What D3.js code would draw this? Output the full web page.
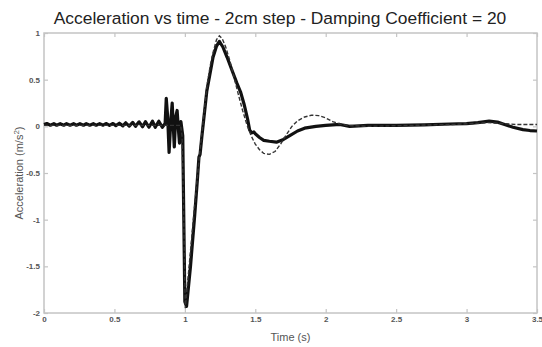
<!DOCTYPE html>
<html>
<head>
<meta charset="utf-8">
<script src="https://cdn.jsdelivr.net/npm/d3@7"></script>
<style>
  body { margin: 0; background: #fff; }
  svg { display: block; font-family: "Liberation Sans", Arial, sans-serif; }
</style>
</head>
<body>
<div id="chart"></div>
<script>
// measured acceleration [time s, accel m/s^2]
var measured = [
  [0,0.02],[0.02,0.03],[0.045,0.012],[0.07,0.028],[0.09,0.012],[0.115,0.028],[0.14,0.012],[0.16,0.028],
  [0.185,0.012],[0.21,0.028],[0.23,0.012],[0.255,0.028],[0.28,0.012],[0.3,0.028],[0.325,0.012],[0.35,0.028],
  [0.37,0.012],[0.395,0.028],[0.42,0.012],[0.44,0.03],[0.465,0.01],[0.49,0.03],[0.51,0.008],[0.535,0.033],
  [0.56,0.005],[0.58,0.038],[0.605,0.002],[0.63,0.042],[0.65,0.0],[0.675,0.048],[0.7,-0.005],[0.72,0.05],
  [0.745,-0.01],[0.77,0.055],[0.79,-0.01],[0.815,0.055],[0.84,-0.01],[0.86,0.03],
  [0.868,0.3],[0.878,0.1],[0.888,-0.28],[0.9,0.05],[0.91,0.25],[0.918,0.0],[0.925,-0.22],[0.935,0.1],
  [0.945,0.17],[0.955,-0.05],[0.962,-0.18],[0.972,0.05],[0.985,-0.1],[1.0,-1.88],[1.012,-1.93],
  [1.04,-1.5],[1.07,-0.95],[1.09,-0.55],[1.1,-0.33],[1.108,-0.3],[1.12,-0.12],[1.156,0.38],[1.2,0.74],
  [1.225,0.86],[1.245,0.91],[1.27,0.85],[1.3,0.74],[1.34,0.58],[1.37,0.46],[1.395,0.37],[1.42,0.24],
  [1.445,0.08],[1.46,-0.04],[1.475,-0.07],[1.49,-0.06],[1.5,-0.08],[1.53,-0.12],[1.56,-0.15],[1.6,-0.16],
  [1.65,-0.17],[1.7,-0.14],[1.745,-0.1],[1.8,-0.05],[1.85,-0.02],[1.93,0.0],[2.0,0.01],[2.1,0.02],
  [2.17,0.0],[2.3,0.01],[2.5,0.01],[2.7,0.015],[2.88,0.025],[3.0,0.03],[3.08,0.04],[3.16,0.055],
  [3.22,0.045],[3.27,0.02],[3.33,-0.01],[3.4,-0.035],[3.45,-0.045],[3.5,-0.05]
];

// simulated acceleration (dashed)
var model = [
  [0,0.01],[0.97,0.01],[0.98,-0.1],[0.99,-0.8],[1.003,-1.95],[1.03,-1.5],[1.06,-1.0],[1.085,-0.6],
  [1.106,-0.28],[1.13,0.06],[1.156,0.42],[1.18,0.65],[1.2,0.79],[1.225,0.93],[1.245,0.97],[1.265,0.94],
  [1.29,0.85],[1.32,0.7],[1.35,0.52],[1.38,0.34],[1.41,0.17],[1.44,0.02],[1.47,-0.1],[1.5,-0.19],
  [1.53,-0.25],[1.56,-0.29],[1.6,-0.3],[1.64,-0.27],[1.68,-0.19],[1.72,-0.09],[1.76,0.0],[1.8,0.06],
  [1.85,0.1],[1.9,0.12],[1.95,0.115],[2.0,0.09],[2.05,0.05],[2.1,0.025],[2.15,0.01],[2.3,0.0],
  [2.6,0.01],[2.9,0.02],[3.05,0.03],[3.15,0.04],[3.25,0.03],[3.35,0.02],[3.5,0.02]
];

var xTicks = [0, 0.5, 1, 1.5, 2, 2.5, 3, 3.5];
var yTicks = [1, 0.5, 0, -0.5, -1, -1.5, -2];

var margin = { top: 33, right: 5, bottom: 34, left: 44 };
var width = 542 - margin.left - margin.right;
var height = 347 - margin.top - margin.bottom;

var svg = d3.select("#chart")
  .append("svg")
    .attr("width", 542)
    .attr("height", 347)
  .append("g")
    .attr("transform", "translate(" + margin.left + "," + margin.top + ")");

var x = d3.scaleLinear().domain([0, 3.5]).range([0, width]);
var y = d3.scaleLinear().domain([-2, 1]).range([height, 0]);

var fmt = function(d) { return String(d); };

function styleAxis(g) {
  g.select(".domain").remove();
  g.selectAll(".tick line").attr("stroke", "#c4c4c4").attr("stroke-width", 1.2);
  g.selectAll(".tick text")
    .attr("fill", "#555")
    .style("font-size", "8px")
    .style("font-weight", "bold");
}

svg.append("g")
  .attr("transform", "translate(0," + height + ")")
  .call(d3.axisBottom(x).tickValues(xTicks).tickFormat(fmt).tickSizeInner(-4).tickSizeOuter(0).tickPadding(3))
  .call(styleAxis);

svg.append("g")
  .call(d3.axisTop(x).tickValues(xTicks).tickFormat("").tickSizeInner(-4).tickSizeOuter(0))
  .call(styleAxis);

svg.append("g")
  .call(d3.axisLeft(y).tickValues(yTicks).tickFormat(fmt).tickSizeInner(-4).tickSizeOuter(0).tickPadding(4))
  .call(styleAxis);

svg.append("g")
  .attr("transform", "translate(" + width + ",0)")
  .call(d3.axisRight(y).tickValues(yTicks).tickFormat("").tickSizeInner(-4).tickSizeOuter(0))
  .call(styleAxis);

svg.append("rect")
  .attr("width", width)
  .attr("height", height)
  .attr("fill", "none")
  .attr("stroke", "#c4c4c4")
  .attr("stroke-width", 1.5);

var line = d3.line()
  .x(function(d) { return x(d[0]); })
  .y(function(d) { return y(d[1]); });

svg.append("path")
  .datum(measured)
  .attr("d", line)
  .attr("fill", "none")
  .attr("stroke", "#111")
  .attr("stroke-width", 3.2)
  .attr("stroke-linejoin", "round");

svg.append("path")
  .datum(model)
  .attr("d", line)
  .attr("fill", "none")
  .attr("stroke", "#333")
  .attr("stroke-width", 1.4)
  .attr("stroke-dasharray", "4,2");

var root = d3.select("svg");

root.append("text")
  .attr("x", 280)
  .attr("y", 24)
  .attr("text-anchor", "middle")
  .attr("fill", "#222")
  .style("font-size", "17.4px")
  .text("Acceleration vs time - 2cm step - Damping Coefficient = 20");

root.append("text")
  .attr("x", margin.left + width / 2)
  .attr("y", 341)
  .attr("text-anchor", "middle")
  .attr("fill", "#555")
  .style("font-size", "11px")
  .text("Time (s)");

var yl = root.append("text")
  .attr("transform", "translate(23," + (margin.top + height / 2) + ") rotate(-90)")
  .attr("text-anchor", "middle")
  .attr("fill", "#555")
  .style("font-size", "11px");
yl.append("tspan").text("Acceleration (m/s");
yl.append("tspan").attr("dy", -4).style("font-size", "8px").text("2");
yl.append("tspan").attr("dy", 4).text(")");
</script>
</body>
</html>
